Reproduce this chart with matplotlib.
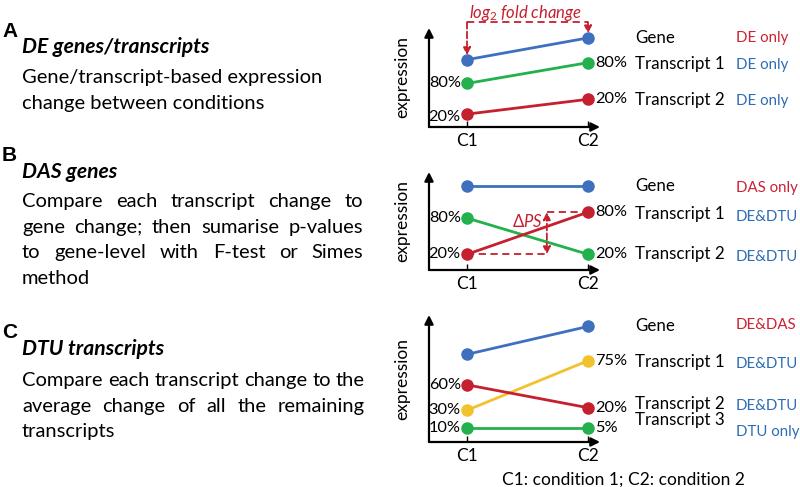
import matplotlib
matplotlib.use("Agg")
import matplotlib.pyplot as plt

FONT = "Lato"
plt.rcParams['font.family'] = [FONT, 'DejaVu Sans']
plt.rcParams['mathtext.fontset'] = 'custom'
plt.rcParams['mathtext.rm'] = FONT
plt.rcParams['mathtext.it'] = FONT + ':italic'

# ---------------- data ----------------
conditions = ["C1", "C2"]
x_pos = [1, 2]

# Panel A: DE genes/transcripts
a_gene = [6.8, 9.0]
a_t1 = [4.4, 6.5]
a_t2 = [1.3, 2.8]
a_t1_pct = ["80%", "80%"]
a_t2_pct = ["20%", "20%"]

# Panel B: DAS genes
b_gene = [8.6, 8.6]
b_t1 = [1.6, 5.9]
b_t2 = [5.3, 1.6]
b_t1_pct = ["20%", "80%"]
b_t2_pct = ["80%", "20%"]

# Panel C: DTU transcripts
c_gene = [6.9, 9.1]
c_t1 = [2.5, 6.4]
c_t2 = [4.5, 2.7]
c_t3 = [1.1, 1.1]
c_t1_pct = ["30%", "75%"]
c_t2_pct = ["60%", "20%"]
c_t3_pct = ["10%", "5%"]

a_names = ["Gene", "Transcript 1", "Transcript 2"]
a_status = ["DE only", "DE only", "DE only"]
b_names = ["Gene", "Transcript 1", "Transcript 2"]
b_status = ["DAS only", "DE&DTU", "DE&DTU"]
c_names = ["Gene", "Transcript 1", "Transcript 2", "Transcript 3"]
c_status = ["DE&DAS", "DE&DTU", "DE&DTU", "DTU only"]

# ---------------- style ----------------
BLUE = "#3F70BF"
GREEN = "#22B14C"
RED = "#C5202E"
YELLOW = "#F2C12E"
TXT_BLUE = "#2E6DB4"
TXT_RED = "#CC2233"
NAME_FS = 12.2
STAT_FS = 10.8
PCT_FS = 11.8

W, H = 800, 487
fig = plt.figure(figsize=(W / 100, H / 100), dpi=100)


def fx(px):
    return px / W


def fy(py):
    return 1 - py / H


def make_axes(top, bottom, left=429, right=600):
    ax = fig.add_axes([fx(left), fy(bottom), (right - left) / W, (bottom - top) / H])
    ax.set_xlim(1 - 38 / 121, 2 + 12 / 121)
    ax.set_ylim(0, 10)
    for s in ax.spines.values():
        s.set_visible(False)
    ax.set_yticks([])
    ax.set_xticks(x_pos)
    ax.set_xticklabels(conditions, fontsize=12.5)
    ax.tick_params(axis='x', direction='in', length=4, width=1, pad=4)
    ax.patch.set_alpha(0)
    kw = dict(arrowstyle='-|>', lw=1.6, color='black', mutation_scale=13,
              shrinkA=0, shrinkB=0)
    ax.annotate("", xy=(0, 1), xytext=(0, 0), xycoords='axes fraction',
                textcoords='axes fraction', arrowprops=kw, annotation_clip=False)
    ax.annotate("", xy=(1, 0), xytext=(0, -0.0), xycoords='axes fraction',
                textcoords='axes fraction', arrowprops=kw, annotation_clip=False)
    ax.text(-0.158, 0.5, "expression", transform=ax.transAxes, rotation=90,
            ha='center', va='center', fontsize=12.5)
    return ax


def series(ax, vals, color, pcts=None, left_dy=0):
    ax.plot(x_pos, vals, color=color, lw=2.0, marker='o', markersize=8,
            clip_on=False, zorder=3)
    if pcts:
        ax.annotate(pcts[0], (x_pos[0], vals[0]), xytext=(-4.5, left_dy),
                    textcoords='offset points', ha='right', va='center', fontsize=PCT_FS)
        ax.annotate(pcts[1], (x_pos[1], vals[1]), xytext=(5, 0),
                    textcoords='offset points', ha='left', va='center', fontsize=PCT_FS)


def side_labels(names, status, name_y, stat_y, stat_colors):
    for n, y in zip(names, name_y):
        fig.text(fx(635), fy(y), n, ha='left', va='center', fontsize=NAME_FS)
    for s, y, c in zip(status, stat_y, stat_colors):
        fig.text(fx(736), fy(y), s, ha='left', va='center', fontsize=STAT_FS, color=c)


# ---------------- panel A ----------------
axA = make_axes(28, 127)
series(axA, a_gene, BLUE)
series(axA, a_t1, GREEN, a_t1_pct)
series(axA, a_t2, RED, a_t2_pct, left_dy=-2)
dash = dict(color=RED, lw=1.3, ls=(0, (4, 2.5)))
axA.plot([1, 2], [10.6, 10.6], clip_on=False, **dash)
for xv, yv in [(1, a_gene[0] + 0.45), (2, a_gene[1] + 0.45)]:
    axA.annotate("", xy=(xv, yv), xytext=(xv, 10.6),
                 arrowprops=dict(arrowstyle='-|>', color=RED, lw=1.3, ls='--',
                                 mutation_scale=11, shrinkA=0, shrinkB=0),
                 annotation_clip=False)
axA.text(1.48, 11.55, r"$log_2$ fold change", color=RED, fontsize=12,
         style='italic', ha='center', va='center', clip_on=False)
side_labels(a_names, a_status, [38, 64, 100], [38, 65, 101], [TXT_RED, TXT_BLUE, TXT_BLUE])

# ---------------- panel B ----------------
axB = make_axes(172, 270)
series(axB, b_gene, BLUE)
series(axB, b_t2, GREEN, b_t2_pct)
series(axB, b_t1, RED, b_t1_pct)
xm = 1.66
axB.plot([1, xm], [b_t1[0], b_t1[0]], zorder=2, **dash)
axB.plot([xm, 2], [b_t1[1], b_t1[1]], zorder=2, **dash)
axB.annotate("", xy=(xm, b_t1[0]), xytext=(xm, b_t1[1]),
             arrowprops=dict(arrowstyle='<|-|>', color=RED, lw=1.3, ls='--',
                             mutation_scale=11, shrinkA=0, shrinkB=0))
axB.text(1.5, 4.9, r"$\Delta\mathit{PS}$", color=RED, fontsize=12,
         ha='center', va='center')
side_labels(b_names, b_status, [186, 214, 254], [188, 217, 257], [TXT_RED, TXT_BLUE, TXT_BLUE])

# ---------------- panel C ----------------
axC = make_axes(315, 442)
series(axC, c_gene, BLUE)
series(axC, c_t1, YELLOW, c_t1_pct)
series(axC, c_t2, RED, c_t2_pct)
series(axC, c_t3, GREEN, c_t3_pct)
side_labels(c_names, c_status, [326, 362, 404, 420], [325, 364, 406, 432],
            [TXT_RED, TXT_BLUE, TXT_BLUE, TXT_BLUE])

fig.text(fx(623), fy(480), "C1: condition 1; C2: condition 2", ha='center',
         va='center', fontsize=12.5)

# ---------------- left text ----------------
renderer = fig.canvas.get_renderer()
BODY = 14.5


def justified(lines, baselines, x0, x1, justify):
    for line, yb, j in zip(lines, baselines, justify):
        if not j:
            fig.text(fx(x0), fy(yb), line, ha='left', va='baseline', fontsize=BODY)
            continue
        words = line.split(' ')
        texts = [fig.text(0, fy(yb), w, ha='left', va='baseline', fontsize=BODY)
                 for w in words]
        widths = [t.get_window_extent(renderer).width for t in texts]
        gap = (x1 - x0 - sum(widths)) / (len(words) - 1)
        x = x0
        for t, wdt in zip(texts, widths):
            t.set_x(fx(x))
            x += wdt + gap


for letter, yb in [("A", 37), ("B", 161), ("C", 338)]:
    fig.text(fx(2), fy(yb), letter, ha='left', va='baseline', fontsize=15,
             fontweight='bold', family=['Liberation Sans', 'DejaVu Sans'])

TITLE_FS = 15.2
fig.text(fx(22), fy(53), "DE genes/transcripts", fontsize=TITLE_FS, fontweight='bold',
         style='italic', va='baseline')
justified(["Gene/transcript-based expression", "change between conditions"],
          [83, 109], 22, 363, [False, False])

fig.text(fx(22), fy(178), "DAS genes", fontsize=TITLE_FS, fontweight='bold',
         style='italic', va='baseline')
justified(["Compare each transcript change to",
           "gene change; then sumarise p-values",
           "to gene-level with F-test or Simes",
           "method"], [207, 232.5, 258, 283.5], 22, 363, [True, True, True, False])

fig.text(fx(22), fy(355), "DTU transcripts", fontsize=TITLE_FS, fontweight='bold',
         style='italic', va='baseline')
justified(["Compare each transcript change to the",
           "average change of all the remaining",
           "transcripts"], [386, 412, 437], 22, 365, [True, True, False])

fig.savefig("out.png", dpi=100)
